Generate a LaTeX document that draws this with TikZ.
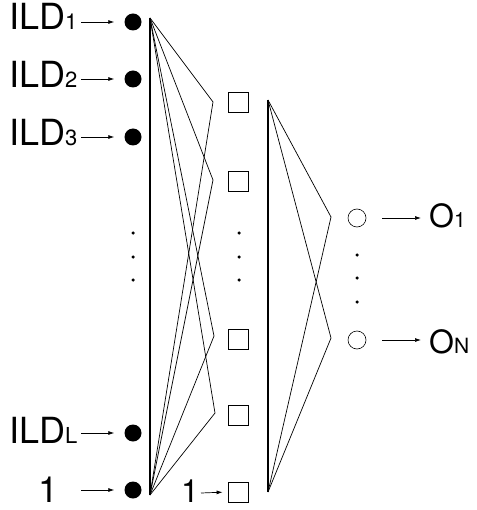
\documentclass[tikz,border=0pt]{standalone}
\usepackage{fontspec}
\setmainfont{TeX Gyre Heros}
\usetikzlibrary{arrows.meta}
\newcommand\bigfnt{\fontsize{36}{36}\selectfont}
\newcommand\subfnt{\fontsize{22}{22}\selectfont}
\newcommand\outfnt{\fontsize{32}{32}\selectfont}
\newcommand\outsub{\fontsize{21}{21}\selectfont}
\begin{document}
\begin{tikzpicture}[x=1pt,y=-1pt,
  inp/.style={circle,fill=black,inner sep=0pt,minimum size=17pt},
  hid/.style={draw,line width=0.8pt,inner sep=0pt,minimum size=20pt},
  outn/.style={circle,draw,line width=0.6pt,inner sep=0pt,minimum size=18pt},
  vdot/.style={circle,fill=black,inner sep=0pt,minimum size=3.5pt},
  bar/.style={line width=1.8pt},
  wire/.style={line width=0.7pt},
  arr/.style={line width=0.7pt,-{Latex[length=6pt,width=4pt]}},
  lab/.style={inner sep=0pt,anchor=base west}]
\useasboundingbox (0,0) rectangle (476,510);
% input nodes
\node[inp] (i1) at (133,22) {};
\node[inp] (i2) at (133,79) {};
\node[inp] (i3) at (133,137) {};
\node[inp] (iL) at (133,433) {};
\node[inp] (i0) at (133,490) {};
\node[vdot] (id1) at (133,233) {};
\node[vdot] (id2) at (133,257) {};
\node[vdot] (id3) at (133,280) {};
% input labels
\node[lab] (l1) at (9,30) {\bigfnt ILD\subfnt 1};
\node[lab] (l2) at (9,88) {\bigfnt ILD\subfnt 2};
\node[lab] (l3) at (9,146) {\bigfnt ILD\subfnt 3};
\node[lab] (lL) at (9,443) {\bigfnt ILD\subfnt L};
\node[inner sep=0pt,anchor=base] (l0) at (49,502) {\bigfnt 1};
\foreach \n/\y in {1/22,2/79,3/137,L/433,0/490}{
  \coordinate (a\n) at (81,\y);
  \draw[arr,shorten >=10pt] (a\n) -- (i\n.west);
}
% first bar and wires
\coordinate (T) at (150,18);
\coordinate (B) at (150,495);
\draw[bar] (T) -- (B);
\coordinate (h1) at (213,102);
\coordinate (h2) at (213,180);
\coordinate (h3) at (214,336);
\coordinate (h4) at (215,413);
\foreach \h in {h1,h2,h3,h4}{
  \draw[wire] (T) -- (\h) -- (B);
}
% hidden nodes
\node[hid] (s1) at (238,102) {};
\node[hid] (s2) at (238,181) {};
\node[hid] (s3) at (238,339) {};
\node[hid] (s4) at (238,415) {};
\node[hid] (s0) at (238,492) {};
\node[vdot] (sd1) at (239,233) {};
\node[vdot] (sd2) at (239,257) {};
\node[vdot] (sd3) at (239,280) {};
\node[inner sep=0pt,anchor=base] (hb) at (190,502) {\outfnt 1};
\coordinate (ab) at (201,493);
\draw[arr,shorten >=5pt] (ab) -- (s0.west);
% second bar and wires
\coordinate (T2) at (268,100);
\coordinate (B2) at (268,492);
\draw[bar] (T2) -- (B2);
\coordinate (j1) at (331,217);
\coordinate (j2) at (331,338);
\foreach \j in {j1,j2}{
  \draw[wire] (T2) -- (\j) -- (B2);
}
% output nodes
\node[outn] (o1) at (357,218) {};
\node[outn] (oN) at (357,340) {};
\node[vdot] (od1) at (357,255) {};
\node[vdot] (od2) at (357,278) {};
\node[vdot] (od3) at (357,302) {};
\node[lab] (ol1) at (429,228) {\outfnt O\outsub 1};
\node[lab] (olN) at (429,353) {\outfnt O\outsub N};
\draw[arr,shorten <=16pt,shorten >=8pt] (o1.east) -- (o1.east -| ol1.west);
\draw[arr,shorten <=16pt,shorten >=8pt] (oN.east) -- (oN.east -| olN.west);
\end{tikzpicture}
\end{document}
